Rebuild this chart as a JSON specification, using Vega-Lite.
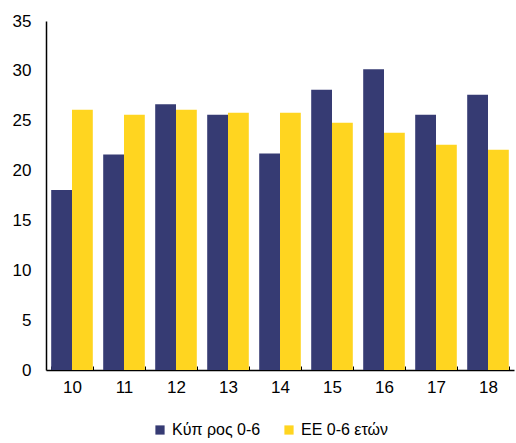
{
  "$schema": "https://vega.github.io/schema/vega-lite/v6.json",
  "width": 468,
  "height": 349,
  "autosize": {"type": "none"},
  "padding": {"left": 46, "top": 21, "right": 2, "bottom": 73},
  "config": {
    "view": {"stroke": null},
    "font": "Liberation Sans"
  },
  "data": {
    "values": [
      {"year": "10", "series": "Κύπ ρος 0-6", "value": 18.05},
      {"year": "10", "series": "ΕΕ 0-6 ετών", "value": 26.1},
      {"year": "11", "series": "Κύπ ρος 0-6", "value": 21.6},
      {"year": "11", "series": "ΕΕ 0-6 ετών", "value": 25.6},
      {"year": "12", "series": "Κύπ ρος 0-6", "value": 26.65},
      {"year": "12", "series": "ΕΕ 0-6 ετών", "value": 26.1},
      {"year": "13", "series": "Κύπ ρος 0-6", "value": 25.6},
      {"year": "13", "series": "ΕΕ 0-6 ετών", "value": 25.8},
      {"year": "14", "series": "Κύπ ρος 0-6", "value": 21.7},
      {"year": "14", "series": "ΕΕ 0-6 ετών", "value": 25.8},
      {"year": "15", "series": "Κύπ ρος 0-6", "value": 28.1},
      {"year": "15", "series": "ΕΕ 0-6 ετών", "value": 24.8},
      {"year": "16", "series": "Κύπ ρος 0-6", "value": 30.15},
      {"year": "16", "series": "ΕΕ 0-6 ετών", "value": 23.8},
      {"year": "17", "series": "Κύπ ρος 0-6", "value": 25.6},
      {"year": "17", "series": "ΕΕ 0-6 ετών", "value": 22.6},
      {"year": "18", "series": "Κύπ ρος 0-6", "value": 27.6},
      {"year": "18", "series": "ΕΕ 0-6 ετών", "value": 22.1}
    ]
  },
  "mark": {"type": "bar"},
  "encoding": {
    "x": {
      "field": "year",
      "type": "nominal",
      "scale": {"paddingInner": 0.2, "paddingOuter": 0.1},
      "axis": {
        "title": null,
        "labelAngle": 0,
        "labelFontSize": 17,
        "labelColor": "#000000",
        "labelPadding": 13,
        "domainColor": "#000000",
        "domainWidth": 1.5,
        "tickBand": "extent",
        "tickColor": "#000000",
        "tickSize": -4,
        "tickWidth": 1
      }
    },
    "y": {
      "field": "value",
      "type": "quantitative",
      "scale": {"domain": [0, 35]},
      "axis": {
        "title": null,
        "values": [0, 5, 10, 15, 20, 25, 30, 35],
        "grid": false,
        "ticks": false,
        "labelFontSize": 17,
        "labelColor": "#000000",
        "labelPadding": 15,
        "domainColor": "#000000",
        "domainWidth": 1.5
      }
    },
    "xOffset": {"field": "series", "sort": ["Κύπ ρος 0-6", "ΕΕ 0-6 ετών"]},
    "color": {
      "field": "series",
      "type": "nominal",
      "sort": ["Κύπ ρος 0-6", "ΕΕ 0-6 ετών"],
      "scale": {"domain": ["Κύπ ρος 0-6", "ΕΕ 0-6 ετών"], "range": ["#363B73", "#FFD520"]},
      "legend": {
        "title": null,
        "orient": "none",
        "legendX": 106,
        "legendY": 401,
        "direction": "horizontal",
        "symbolType": "square",
        "symbolSize": 85,
        "symbolStrokeWidth": 0,
        "labelFontSize": 16,
        "labelOffset": 4,
        "labelColor": "#000000",
        "columnPadding": 20
      }
    }
  }
}
